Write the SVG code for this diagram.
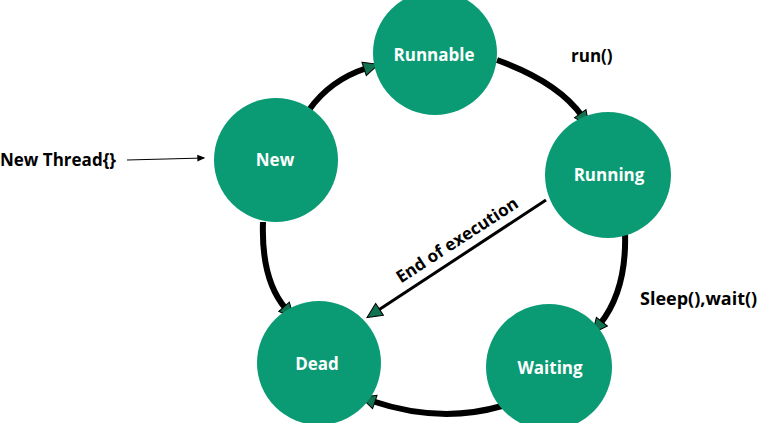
<svg xmlns="http://www.w3.org/2000/svg" width="759" height="423" viewBox="0 0 759 423">
<style>
.node{fill:#0a9b74}
.nl{font-family:"Open Sans","Liberation Sans",sans-serif;font-weight:bold;font-size:17px;fill:#fff;text-anchor:middle}
.lbl{font-family:"Open Sans","Liberation Sans",sans-serif;font-weight:bold;font-size:17px;fill:#000}
.thick{fill:none;stroke:#000;stroke-width:6}
.mid{fill:none;stroke:#000;stroke-width:3}
</style>
<defs>
<marker id="ah" markerUnits="userSpaceOnUse" markerWidth="20" markerHeight="20" viewBox="-2 -9 20 18" refX="3" refY="0" orient="auto">
<path d="M0,-7 L15,0 L0,7 Z" fill="#11734f" stroke="#000" stroke-width="1"/>
</marker>
<marker id="sm" markerUnits="userSpaceOnUse" markerWidth="8" markerHeight="8" viewBox="0 -3 6 6" refX="5" refY="0" orient="auto">
<path d="M0,-2.5 L6,0 L0,2.5 Z" fill="#000"/>
</marker>
</defs>
<g id="connectors">
<path class="thick" d="M309 110 Q330 80 367 68" marker-end="url(#ah)"/>
<path class="thick" d="M497 60 Q558 82 582 116" marker-end="url(#ah)"/>
<path class="thick" d="M625 232 Q627 290 600 324" marker-end="url(#ah)"/>
<path class="thick" d="M502 406 Q440 424 372 401" marker-end="url(#ah)"/>
<path class="thick" d="M263 222 Q261 280 286 309" marker-end="url(#ah)"/>
<path class="mid" d="M546 200 L377 311" marker-end="url(#ah)"/>
<path fill="none" stroke="#000" stroke-width="1" d="M127 160 L204 158" marker-end="url(#sm)"/>
</g>
<g id="runnable"><circle class="node" cx="435" cy="53" r="62"/><text class="nl" x="434" y="61">Runnable</text></g>
<g id="running"><circle class="node" cx="608" cy="175" r="63"/><text class="nl" x="609" y="181">Running</text></g>
<g id="new"><circle class="node" cx="276" cy="160" r="62"/><text class="nl" x="275" y="166">New</text></g>
<g id="dead"><circle class="node" cx="319" cy="363" r="62"/><text class="nl" x="317" y="370">Dead</text></g>
<g id="waiting"><circle class="node" cx="549" cy="367" r="63"/><text class="nl" x="550" y="374">Waiting</text></g>
<g id="labels">
<text class="lbl" x="571" y="62">run()</text>
<text class="lbl" x="0" y="166">New Thread{}</text>
<text class="lbl" x="640" y="305" style="font-size:18px">Sleep(),wait()</text>
<text class="lbl" x="457" y="246" text-anchor="middle" transform="rotate(-33 457 240)">End of execution</text>
</g>
</svg>
